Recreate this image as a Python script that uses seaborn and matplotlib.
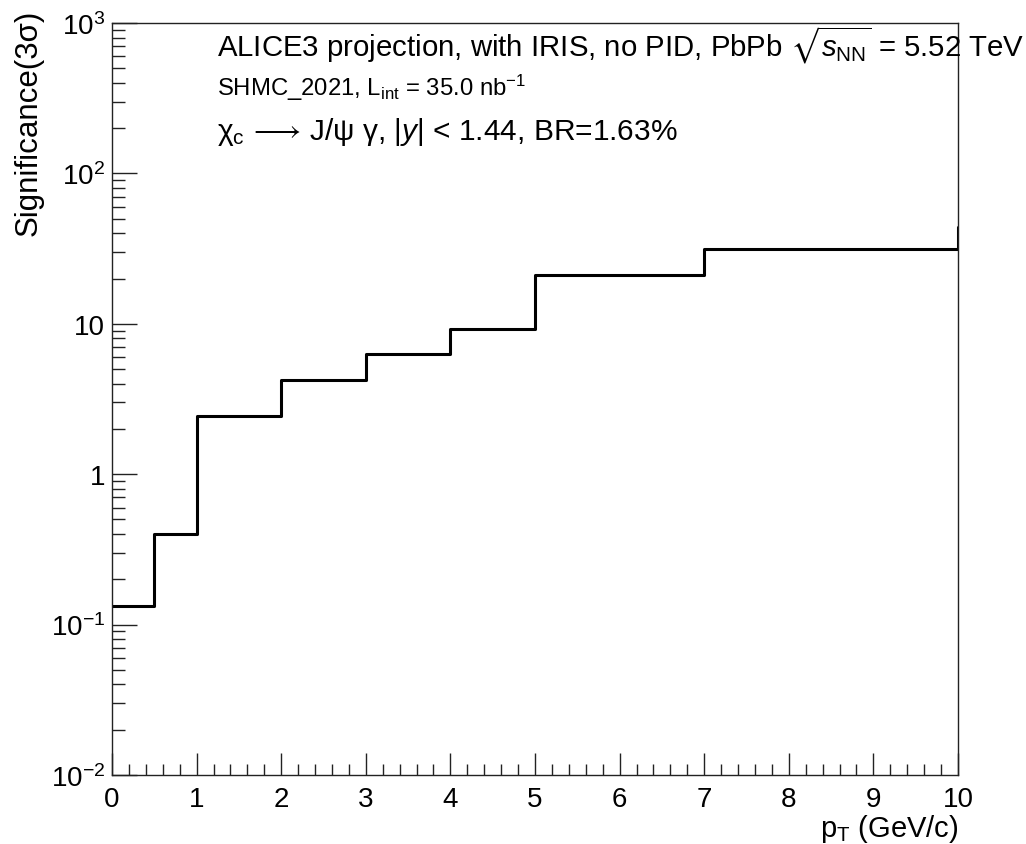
import numpy as np
import pandas as pd
import matplotlib
matplotlib.use("Agg")
import matplotlib.pyplot as plt
import seaborn as sns
from matplotlib.ticker import FixedLocator, FixedFormatter, LogLocator, NullFormatter, MultipleLocator

# ---- data ----
pt_edges = [0, 0.5, 1, 2, 3, 4, 5, 7, 10, 15]
significance = [0.132, 0.40, 2.42, 4.23, 6.25, 9.2, 21.0, 31.5, 44.0]

x_ticks = [0, 1, 2, 3, 4, 5, 6, 7, 8, 9, 10]
x_tick_labels = ["0", "1", "2", "3", "4", "5", "6", "7", "8", "9", "10"]
y_ticks = [1e-2, 1e-1, 1, 10, 1e2, 1e3]
y_tick_labels = [r"10$^{-2}$", r"10$^{-1}$", "1", "10", r"10$^{2}$", r"10$^{3}$"]

title_line1 = r"ALICE3 projection, with IRIS, no PID, PbPb $\sqrt{s_{\rm NN}}$ = 5.52 TeV"
title_line2 = r"SHMC_2021, L$_{\rm int}$ = 35.0 nb$^{-1}$"
title_line3 = r"χ$_{\rm c}$$\,\longrightarrow\,$J/ψ γ, |$y$| < 1.44, BR=1.63%"
x_label = r"p$_{\rm T}$ (GeV/c)"
y_label = "Significance(3σ)"

# ---- style ----
sns.set_theme(style="ticks")
plt.rcParams['font.family'] = ['Liberation Sans', 'DejaVu Sans']
plt.rcParams['mathtext.fontset'] = 'custom'
plt.rcParams['mathtext.rm'] = 'Liberation Sans'
plt.rcParams['mathtext.it'] = 'Liberation Sans:italic'
plt.rcParams['mathtext.bf'] = 'Liberation Sans:bold'
plt.rcParams['mathtext.sf'] = 'Liberation Sans'
plt.rcParams['mathtext.fallback'] = 'stixsans'
for k in ("text.color", "axes.labelcolor", "xtick.color", "ytick.color"):
    plt.rcParams[k] = "black"

W, H = 1026, 845
fig = plt.figure(figsize=(W / 100, H / 100), dpi=100)
L, R, T, B = 112, 958, 24, 776
ax = fig.add_axes([L / W, 1 - B / H, (R - L) / W, (B - T) / H])

df = pd.DataFrame({"pT": pt_edges, "sig": significance + [significance[-1]]})
sns.lineplot(data=df, x="pT", y="sig", drawstyle="steps-post", color="black",
             linewidth=2.2, ax=ax, estimator=None, sort=False, legend=False)

ax.set_yscale("log")
ax.set_xlim(0, 10)
ax.set_ylim(1e-2, 1e3)
ax.set_xlabel("")
ax.set_ylabel("")

ax.xaxis.set_major_locator(FixedLocator(x_ticks))
ax.xaxis.set_major_formatter(FixedFormatter(x_tick_labels))
ax.xaxis.set_minor_locator(MultipleLocator(0.2))
ax.yaxis.set_major_locator(FixedLocator(y_ticks))
ax.yaxis.set_major_formatter(FixedFormatter(y_tick_labels))
ax.yaxis.set_minor_locator(LogLocator(base=10, subs=np.arange(2, 10), numticks=20))
ax.yaxis.set_minor_formatter(NullFormatter())

for s in ax.spines.values():
    s.set_visible(True)
    s.set_linewidth(1.0)
    s.set_color("#222222")

ax.tick_params(which="both", direction="in", top=False, right=False, color="#222222", width=1.0)
ax.tick_params(axis="y", which="major", length=18, labelsize=20, pad=5)
ax.tick_params(axis="y", which="minor", length=9)
ax.tick_params(axis="x", which="major", length=16, labelsize=20, pad=8)
ax.tick_params(axis="x", which="minor", length=8)

fig.text(217 / W, 1 - 56 / H, title_line1, fontsize=21.2, ha="left", va="baseline")
fig.text(217 / W, 1 - 96 / H, title_line2, fontsize=17.2, ha="left", va="baseline")
fig.text(217 / W, 1 - 140 / H, title_line3, fontsize=21.5, ha="left", va="baseline")

fig.text(958 / W, 1 - 837 / H, x_label, fontsize=21, ha="right", va="baseline")
fig.text(29 / W, 1 - 10 / H, y_label, fontsize=22.5, rotation=90, ha="center", va="top")

fig.savefig("out.png", dpi=100)
